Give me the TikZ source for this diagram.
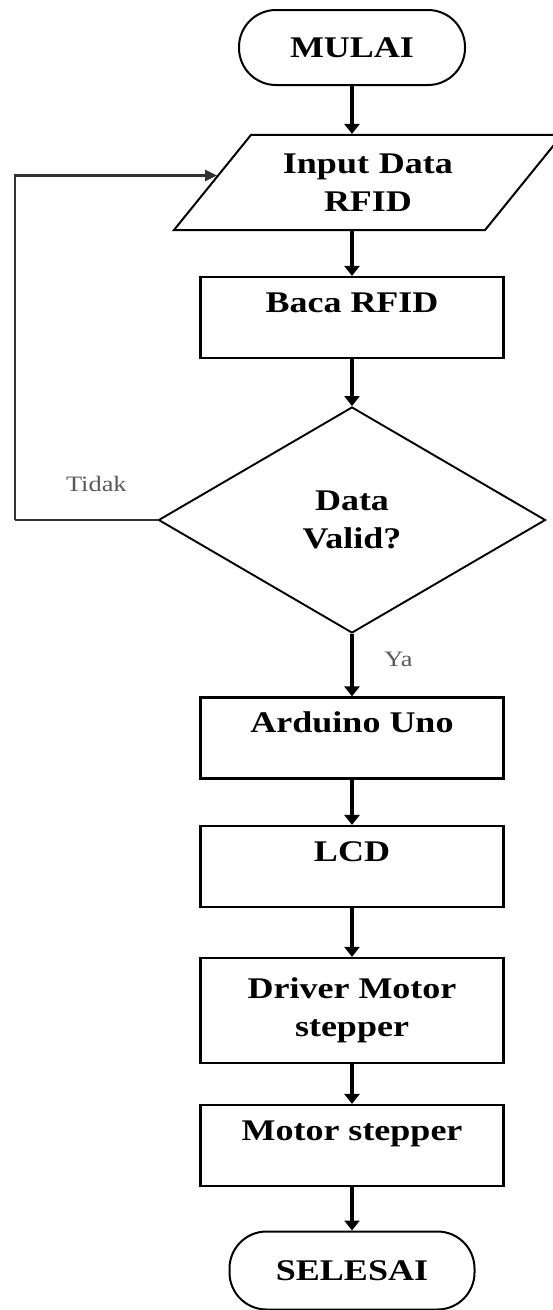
\documentclass[tikz,border=0pt]{standalone}
\usepackage{fontspec}
\setmainfont{Liberation Serif}[FakeStretch=1.2]
\usepackage{tikz}
\usetikzlibrary{shapes.geometric, arrows.meta}
\newcommand{\boxfont}{\fontsize{30}{37.5}\selectfont\bfseries}
\tikzstyle{startstop} = [rectangle, rounded corners=37pt, minimum width=226pt, minimum height=75pt, draw=black, line width=2pt, font=\boxfont]
\tikzstyle{io} = [trapezium, trapezium left angle=51, trapezium right angle=129, text width=234pt, inner xsep=0pt, inner ysep=19pt, align=center, draw=black, line width=2pt, font=\boxfont]
\tikzstyle{process} = [rectangle, minimum width=303pt, inner sep=0pt, draw=black, line width=2.2pt, font=\boxfont]
\tikzstyle{oneline} = [text height=35pt, text depth=46pt]
\tikzstyle{decision} = [diamond, minimum width=387pt, minimum height=226pt, aspect=1.7, inner sep=0pt, align=center, draw=black, line width=1.9pt, font=\boxfont]
\tikzstyle{answer} = [text=black!65, font=\fontsize{22}{26}\selectfont]
\tikzstyle{arrow} = [line width=4pt, -{Triangle[length=10pt, width=15pt]}]
\tikzstyle{back} = [line width=2.3pt, draw=black!80, -{Triangle[length=12pt, width=11pt]}]

\begin{document}
\begin{tikzpicture}[node distance=135pt]
\useasboundingbox (0,0) rectangle (553pt,-1310pt);

\node (start) [startstop] at (352pt,-47.5pt) {MULAI};
\node (in1) [io, below of=start, xshift=16pt] {Input Data\\RFID};
\node (pro1) [process, oneline, below of=in1, xshift=-16pt] {Baca RFID};
\node (dec1) [decision, below of=pro1, yshift=-67.5pt] {Data\\Valid?};
\node (inv) [inner sep=0, minimum size=0, left of=dec1, xshift=-202pt] {}; % corner of the loop
\node (pro2) [process, oneline, below of=dec1, yshift=-83pt] {Arduino Uno};
\node (pro3) [process, oneline, below of=pro2, yshift=6.5pt] {LCD};
\node (pro4) [process, minimum height=105pt, align=center, below of=pro3, yshift=-9pt] {Driver Motor\\stepper};
\node (pro5) [process, oneline, below of=pro4] {Motor stepper};
\node (stop) [startstop, minimum width=245pt, minimum height=78pt, below of=pro5, yshift=10pt] {SELESAI};

\draw [arrow] (start) -- (start |- in1.north);
\draw [arrow] (pro1 |- in1.south) -- (pro1);
\draw [arrow] (pro1) -- (dec1);
\draw [arrow] (dec1) -- node[answer, pos=0.4, right=27pt] {Ya} (pro2);
\draw [back] (dec1) -- node[answer, pos=0.43, above=24pt] {Tidak} (inv) |- ([xshift=6pt, yshift=7pt]in1.west);
\draw [arrow] (pro2) -- (pro3);
\draw [arrow] (pro3) -- (pro4);
\draw [arrow] (pro4) -- (pro5);
\draw [arrow] (pro5) -- (stop);

\end{tikzpicture}
\end{document}
